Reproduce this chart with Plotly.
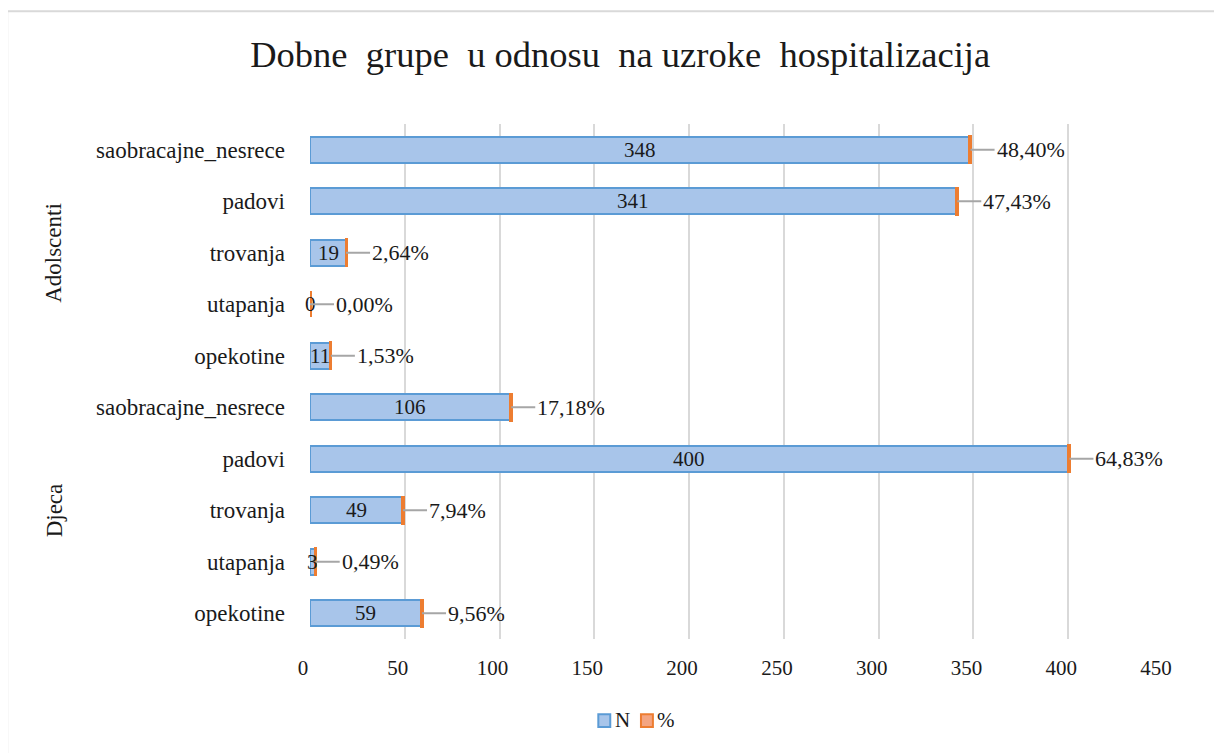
import plotly.graph_objects as go

# Data (bottom to top)
groups = ["Djeca", "Adolscenti"]
causes = ["opekotine", "utapanja", "trovanja", "padovi", "saobracajne_nesrece"]
djeca_n = [59, 3, 49, 400, 106]
djeca_pct = [9.56, 0.49, 7.94, 64.83, 17.18]
adol_n = [11, 0, 19, 341, 348]
adol_pct = [1.53, 0.00, 2.64, 47.43, 48.40]
x_ticks = [0, 50, 100, 150, 200, 250, 300, 350, 400, 450]
series_names = ["N", "%"]

n_vals = djeca_n + adol_n
pct_vals = djeca_pct + adol_pct
labels = causes + causes
ypos = list(range(len(n_vals)))

FONT = "Liberation Serif"
TXT = "#1a1a1a"
BLUE_FILL = "#a8c5ea"
BLUE_LINE = "#5b9bd5"
ORANGE_FILL = "#f4a582"
ORANGE_LINE = "#ed7d31"

fig = go.Figure()
fig.add_trace(go.Bar(
    name=series_names[0], orientation="h", y=ypos, x=n_vals,
    marker=dict(color=BLUE_FILL, line=dict(color=BLUE_LINE, width=2)),
    width=0.5,
))
fig.add_trace(go.Bar(
    name=series_names[1], orientation="h", y=ypos, x=[p / 100 for p in pct_vals],
    marker=dict(color=ORANGE_FILL, line=dict(color=ORANGE_LINE, width=3)),
    width=0.5, hoverinfo="skip",
))

# N labels centred on the bars
for y, n in zip(ypos, n_vals):
    fig.add_annotation(x=n / 2, y=y, xref="x", yref="y", text=str(n),
                       showarrow=False, font=dict(family=FONT, size=21, color=TXT))

# % labels with leader lines
for y, n, p in zip(ypos, n_vals, pct_vals):
    fig.add_annotation(
        x=n + p / 100, y=y, xref="x", yref="y",
        text=f"{p:.2f}%".replace(".", ","),
        showarrow=True, arrowhead=0, arrowcolor="#a6a6a6", arrowwidth=2,
        ax=24, ay=0, xanchor="left",
        font=dict(family=FONT, size=22, color=TXT),
    )

# group labels
for g, yc in zip(groups, [2, 7]):
    fig.add_annotation(x=-0.317, y=yc, xref="paper", yref="y", text=g,
                       textangle=-90, showarrow=False,
                       font=dict(family=FONT, size=23, color=TXT))

# legend drawn with shapes + text
legend_shapes = []
for (x0, x1), fill, line in [((0.338, 0.352), BLUE_FILL, BLUE_LINE),
                             ((0.388, 0.402), ORANGE_FILL, ORANGE_LINE)]:
    legend_shapes.append(dict(type="rect", xref="paper", yref="paper",
                              x0=x0, x1=x1, y0=-0.171, y1=-0.146,
                              fillcolor=fill, line=dict(color=line, width=2)))
for name, xl in zip(series_names, [0.3556, 0.4046]):
    fig.add_annotation(x=xl, y=-0.158, xref="paper", yref="paper",
                       xanchor="left", yanchor="middle", showarrow=False,
                       text=name, font=dict(family=FONT, size=21, color=TXT))

fig.update_layout(
    barmode="stack",
    width=1222, height=753,
    paper_bgcolor="white", plot_bgcolor="white",
    margin=dict(l=302, r=67, t=116, b=122, autoexpand=False),
    title=dict(text="Dobne  grupe  u odnosu  na uzroke  hospitalizacija",
               x=0.501, xanchor="center", y=0.938, yanchor="middle",
               font=dict(family=FONT, size=36.5, color=TXT)),
    showlegend=False,
    xaxis=dict(range=[0, 450], tickvals=x_ticks, showgrid=True, gridcolor="#d9d9d9",
               gridwidth=2, zeroline=False, showline=False, automargin=False,
               tickfont=dict(family=FONT, size=21, color=TXT),
               ticklabelstandoff=14, ticklabelshift=-7),
    yaxis=dict(range=[-0.5, 9.5], tickvals=ypos, ticktext=labels, showgrid=False,
               zeroline=False, showline=False, automargin=False,
               tickfont=dict(family=FONT, size=23, color=TXT),
               ticklabelstandoff=24),
    shapes=[dict(type="rect", xref="paper", yref="paper",
                 x0=-0.355, x1=1.2, y0=-0.3, y1=1.219,
                 line=dict(color="#d9d9d9", width=2), fillcolor="rgba(0,0,0,0)",
                 layer="below")] + legend_shapes,
)

fig.write_html("out.html")
